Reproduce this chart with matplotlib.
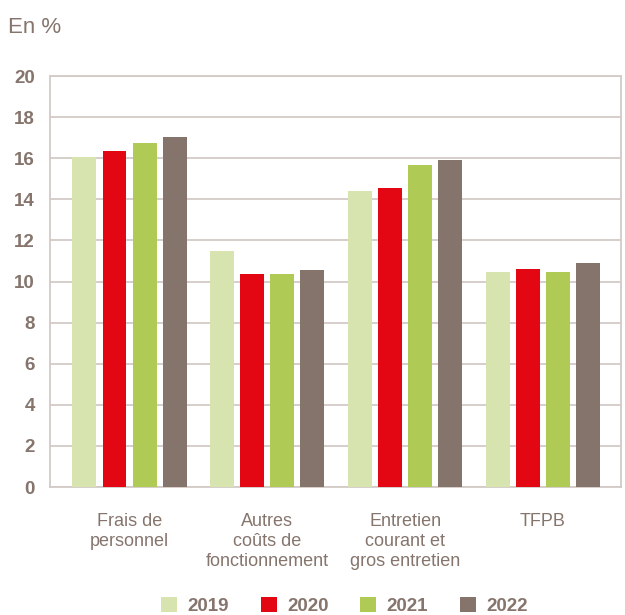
import matplotlib
matplotlib.use("Agg")
import matplotlib.pyplot as plt
import numpy as np
from matplotlib.patches import Patch

categories = ["Frais de\npersonnel", "Autres\ncoûts de\nfonctionnement",
              "Entretien\ncourant et\ngros entretien", "TFPB"]
years = ["2019", "2020", "2021", "2022"]
v2019 = [16.05, 11.48, 14.40, 10.46]
v2020 = [16.35, 10.38, 14.55, 10.61]
v2021 = [16.74, 10.38, 15.67, 10.46]
v2022 = [17.03, 10.56, 15.93, 10.90]
yticks = [0, 2, 4, 6, 8, 10, 12, 14, 16, 18, 20]

series = [v2019, v2020, v2021, v2022]
colors = ["#d8e4b0", "#e30613", "#afca55", "#85746b"]
text_color = "#85756d"
grid_color = "#d3cac6"
fam = ["Liberation Sans", "DejaVu Sans"]

fig = plt.figure(figsize=(6.25, 6.15), dpi=100)
ax = fig.add_axes([0.08, 0.2081, 0.9136, 0.6683])

x = np.arange(len(categories))
step = 0.218
width = 0.174
for i, (vals, c) in enumerate(zip(series, colors)):
    ax.bar(x + (i - 1.5) * step, vals, width=width, color=c, zorder=3)

ax.set_xlim(-0.577, 3.566)
ax.set_ylim(0, 20)
ax.set_yticks(yticks)
ax.set_yticklabels([str(t) for t in yticks], fontsize=13.5, fontweight="bold",
                   color=text_color, family=fam)
ax.set_xticks(x)
ax.set_xticklabels(categories, fontsize=13, color=text_color, family=fam,
                   linespacing=1.2, va="top")
ax.tick_params(axis="x", length=0, pad=19)
ax.tick_params(axis="y", length=0, pad=11)
ax.yaxis.grid(True, color=grid_color, linewidth=1.3, zorder=0)
ax.set_axisbelow(True)
for s in ax.spines.values():
    s.set_color(grid_color)
    s.set_linewidth(1.3)

fig.text(0.013, 0.955, "En %", fontsize=16, color=text_color, family=fam,
         ha="left", va="center")

handles = [Patch(facecolor=c, edgecolor="none") for c in colors]
fig.legend(handles, years, loc="center", bbox_to_anchor=(0.551, 0.014),
           ncol=4, frameon=False, prop={"family": fam, "size": 13.5, "weight": "bold"},
           labelcolor=text_color, handlelength=0.85, handleheight=0.85,
           handletextpad=0.55, columnspacing=1.7, borderpad=0)

fig.savefig("out.png", dpi=100)
